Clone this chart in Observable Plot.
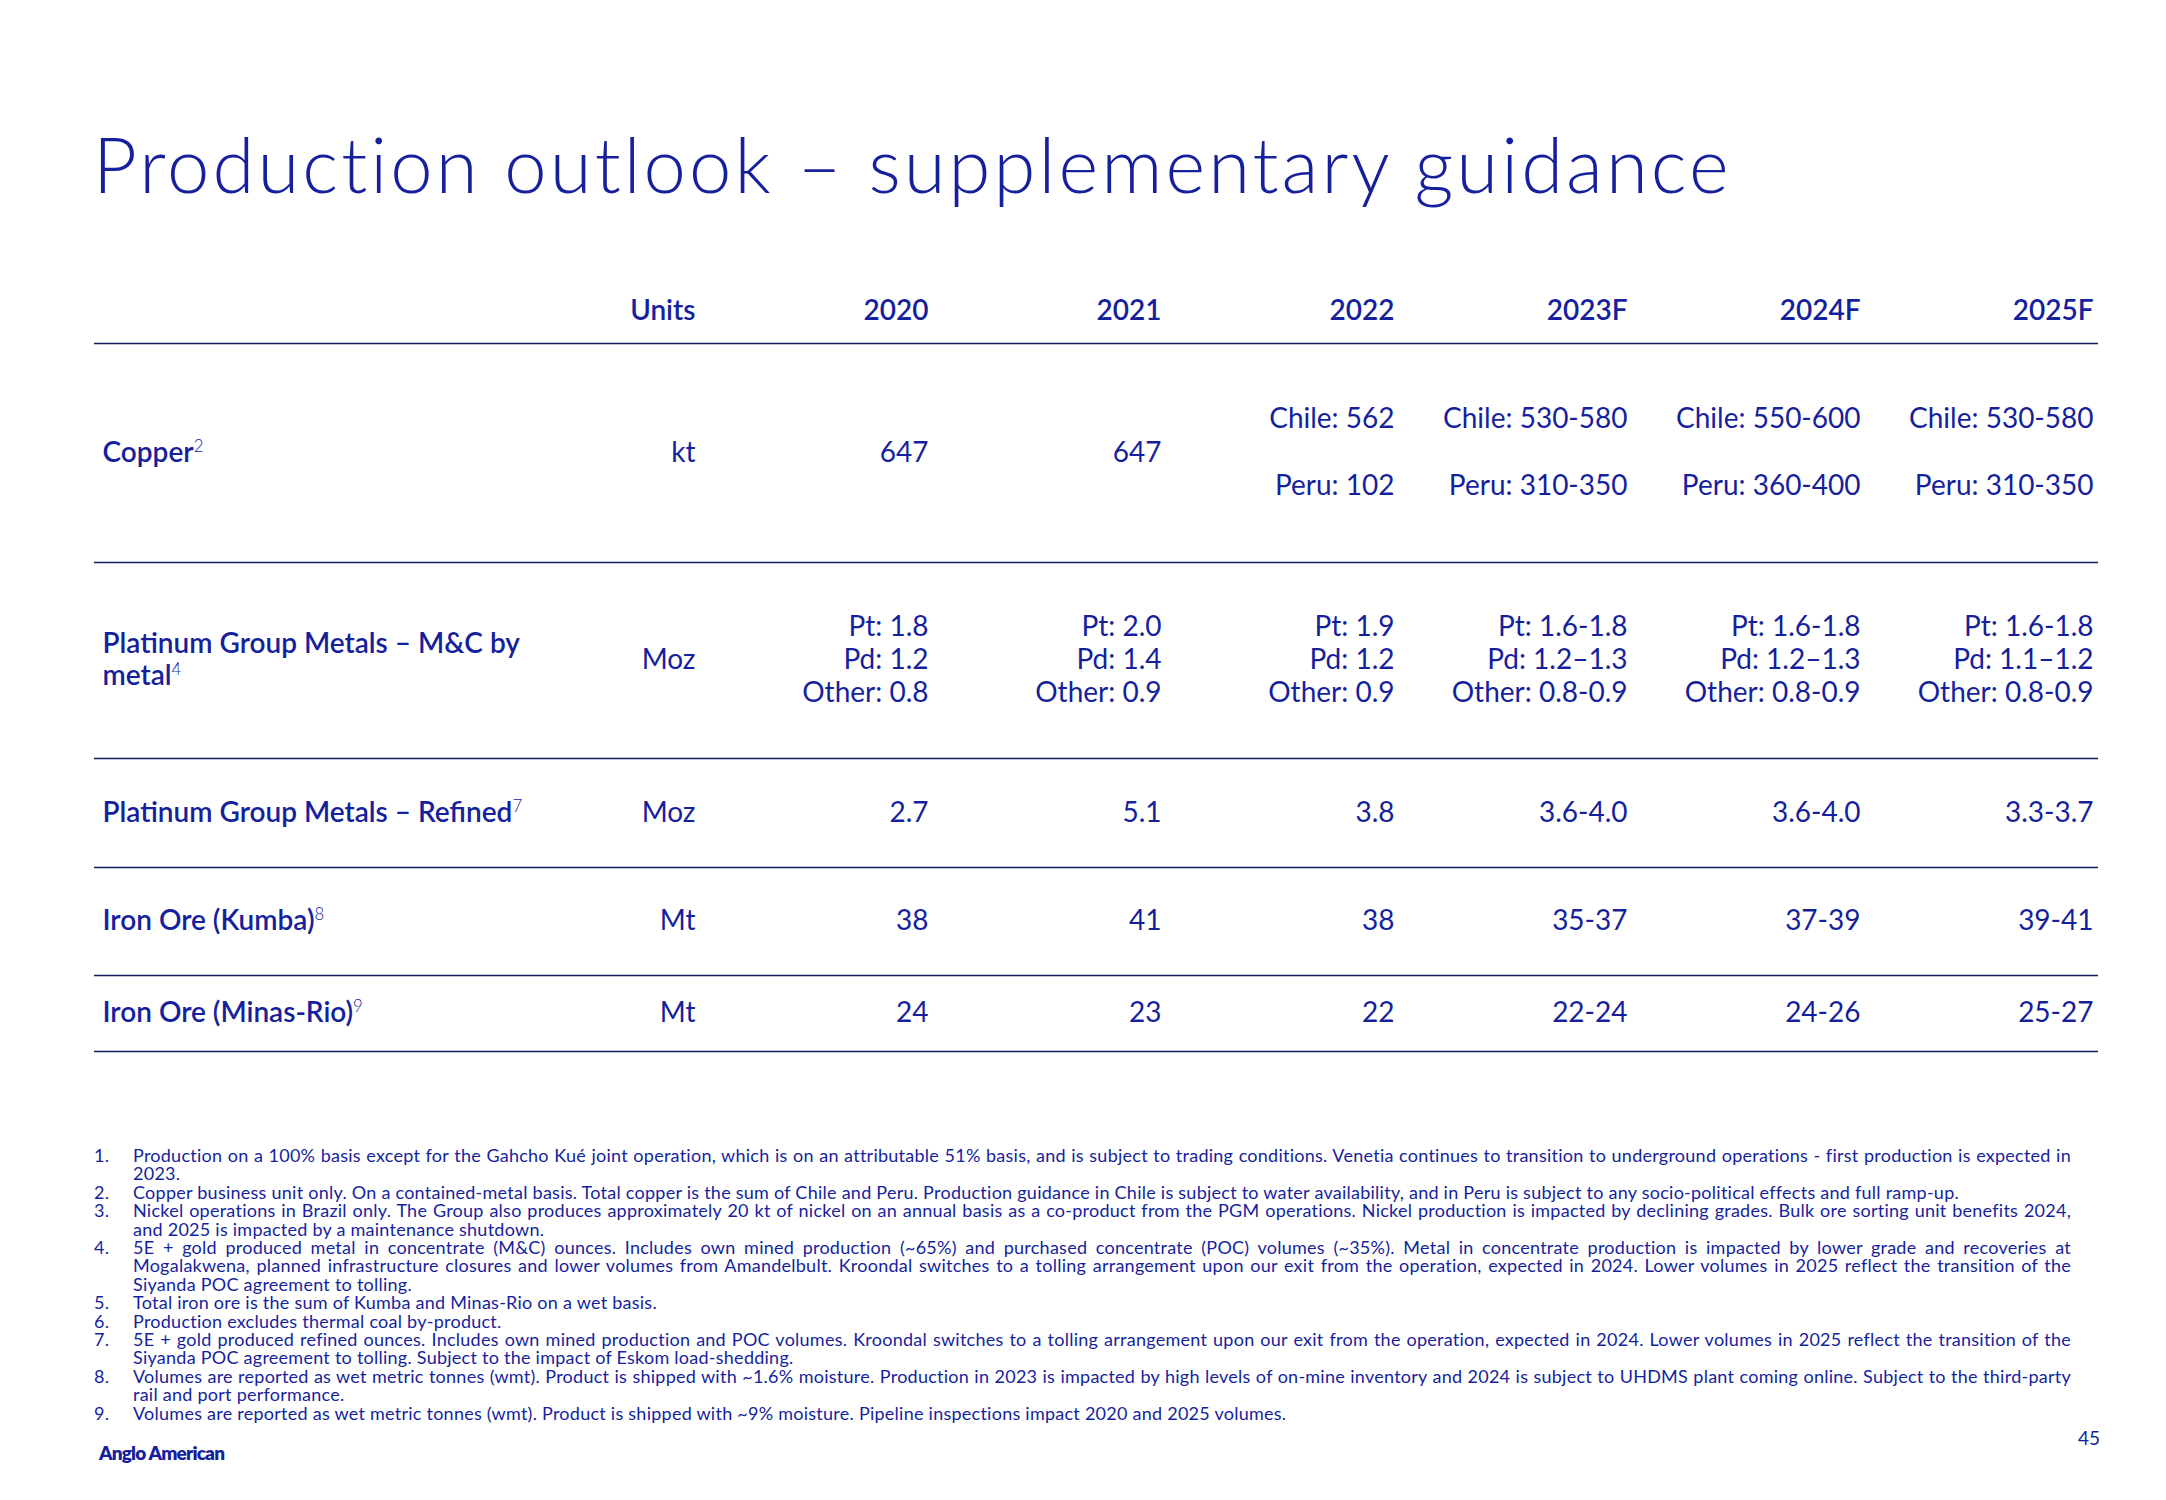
<!DOCTYPE html>
<html>
<head>
<meta charset="utf-8">
<script src="https://cdn.jsdelivr.net/npm/d3@7"></script>
<script src="https://cdn.jsdelivr.net/npm/@observablehq/plot@0.6"></script>
<style>
  html, body { margin: 0; padding: 0; background: #fff; }
  body { width: 2166px; height: 1500px; position: relative; overflow: hidden;
         font-family: Lato, "Open Sans", sans-serif; color: #161f9c; }
  #title { position: absolute; left: 93px; top: 126px; font-size: 76px; line-height: 76px;
           font-weight: 300; white-space: nowrap; }
  #chart { position: absolute; left: 0; top: 260px; }
  #notes { position: absolute; left: 94px; top: 1146px; font-size: 18px; line-height: 18.4px; font-weight: 400; }
  .note { display: flex; }
  .note .num { width: 39px; flex: none; }
  .note .txt { width: 1938px; text-align: justify; }
  #logo { position: absolute; left: 99px; top: 1441px; font-size: 19px; line-height: 24px; font-weight: 800; letter-spacing: -0.8px; }
  #page { position: absolute; right: 66px; top: 1426px; font-size: 19px; line-height: 24px; font-weight: 400; }
</style>
</head>
<body>
<div id="title"></div>
<div id="chart"></div>
<div id="notes"></div>
<div id="logo"></div>
<div id="page"></div>
<script>
// ---------------- DATA ----------------
const titleText = "Production outlook – supplementary guidance";
const columns = ["Units", "2020", "2021", "2022", "2023F", "2024F", "2025F"];
const years = ["2020", "2021", "2022", "2023F", "2024F", "2025F"];
const rowLabels = ["Copper", "Platinum Group Metals – M&C by\nmetal", "Platinum Group Metals – Refined", "Iron Ore (Kumba)", "Iron Ore (Minas-Rio)"];
const rowNotes = ["2", "4", "7", "8", "9"];
const units = ["kt", "Moz", "Moz", "Mt", "Mt"];
const copperValues = ["647", "647", "Chile: 562\nPeru: 102", "Chile: 530-580\nPeru: 310-350", "Chile: 550-600\nPeru: 360-400", "Chile: 530-580\nPeru: 310-350"];
const pgmMCValues = ["Pt: 1.8\nPd: 1.2\nOther: 0.8", "Pt: 2.0\nPd: 1.4\nOther: 0.9", "Pt: 1.9\nPd: 1.2\nOther: 0.9", "Pt: 1.6-1.8\nPd: 1.2–1.3\nOther: 0.8-0.9", "Pt: 1.6-1.8\nPd: 1.2–1.3\nOther: 0.8-0.9", "Pt: 1.6-1.8\nPd: 1.1–1.2\nOther: 0.8-0.9"];
const pgmRefinedValues = ["2.7", "5.1", "3.8", "3.6-4.0", "3.6-4.0", "3.3-3.7"];
const kumbaValues = ["38", "41", "38", "35-37", "37-39", "39-41"];
const minasRioValues = ["24", "23", "22", "22-24", "24-26", "25-27"];
const footnotes = [
  "Production on a 100% basis except for the Gahcho Kué joint operation, which is on an attributable 51% basis, and is subject to trading conditions. Venetia continues to transition to underground operations - first production is expected in 2023.",
  "Copper business unit only. On a contained-metal basis. Total copper is the sum of Chile and Peru. Production guidance in Chile is subject to water availability, and in Peru is subject to any socio-political effects and full ramp-up.",
  "Nickel operations in Brazil only. The Group also produces approximately 20 kt of nickel on an annual basis as a co-product from the PGM operations. Nickel production is impacted by declining grades. Bulk ore sorting unit benefits 2024, and 2025 is impacted by a maintenance shutdown.",
  "5E + gold produced metal in concentrate (M&C) ounces. Includes own mined production (~65%) and purchased concentrate (POC) volumes (~35%). Metal in concentrate production is impacted by lower grade and recoveries at Mogalakwena, planned infrastructure closures and lower volumes from Amandelbult. Kroondal switches to a tolling arrangement upon our exit from the operation, expected in 2024. Lower volumes in 2025 reflect the transition of the Siyanda POC agreement to tolling.",
  "Total iron ore is the sum of Kumba and Minas-Rio on a wet basis.",
  "Production excludes thermal coal by-product.",
  "5E + gold produced refined ounces. Includes own mined production and POC volumes. Kroondal switches to a tolling arrangement upon our exit from the operation, expected in 2024. Lower volumes in 2025 reflect the transition of the Siyanda POC agreement to tolling. Subject to the impact of Eskom load-shedding.",
  "Volumes are reported as wet metric tonnes (wmt). Product is shipped with ~1.6% moisture. Production in 2023 is impacted by high levels of on-mine inventory and 2024 is subject to UHDMS plant coming online. Subject to the third-party rail and port performance.",
  "Volumes are reported as wet metric tonnes (wmt). Product is shipped with ~9% moisture. Pipeline inspections impact 2020 and 2025 volumes."
];
const brand = "Anglo American";
const pageNumber = "45";

// ---------------- STYLE / LAYOUT ----------------
const textColor = "#161f9c";
const lineColor = "#131a60";
const fontSize = 28;
const headerHeight = 64;
const rowHeights = [219, 196, 109, 108, 76];
const lineGaps = [67, 33, 33, 33, 33];
const labelGap = 32;

const rowTop = [];
let acc = headerHeight;
rowHeights.forEach(h => { rowTop.push(acc); acc += h; });
const depth = acc;
const rowCenter = rowTop.map((t, i) => t + rowHeights[i] / 2);
const boundaries = [headerHeight, ...rowTop.map((t, i) => t + rowHeights[i])];
const series = [copperValues, pgmMCValues, pgmRefinedValues, kumbaValues, minasRioValues];
// Plot scales its baseline offset by lineHeight; undo that so blocks stay centred
const lineFix = gap => -0.32 * (gap / fontSize - 1) * fontSize;

// ---------------- TITLE ----------------
const titleEl = document.getElementById("title");
titleEl.textContent = titleText;
{
  const w = titleEl.getBoundingClientRect().width;
  const ls = (1637 - w) / (titleText.length - 1);
  titleEl.style.letterSpacing = ls + "px";
}

// ---------------- TABLE (Plot) ----------------
const svg = Plot.plot({
  width: 2166,
  height: 820,
  marginLeft: 94,
  marginRight: 68,
  marginTop: 0,
  marginBottom: 0,
  style: { fontFamily: "Lato, 'Open Sans', sans-serif", background: "transparent", overflow: "visible" },
  x: { type: "point", domain: columns, range: [695, 2093], padding: 0, axis: null },
  y: { type: "linear", domain: [0, depth], range: [19, 19 + depth], axis: null },
  marks: [
    Plot.ruleY(boundaries, { stroke: lineColor, strokeWidth: 1.4 }),
    Plot.text(columns, { x: d => d, y: () => headerHeight / 2, text: d => d, textAnchor: "end",
      fontSize, fontWeight: 600, fill: textColor }),
    Plot.text(rowLabels, { frameAnchor: "left", dx: 8, dy: lineFix(labelGap), y: (d, i) => rowCenter[i], text: d => d,
      textAnchor: "start", fontSize, fontWeight: 600, lineHeight: labelGap / fontSize, fill: textColor }),
    Plot.text(units, { x: () => "Units", y: (d, i) => rowCenter[i], text: d => d, textAnchor: "end",
      fontSize, fill: textColor }),
    ...series.map((vals, r) => Plot.text(vals, { x: (d, j) => years[j], y: () => rowCenter[r], text: d => d,
      dy: lineFix(lineGaps[r]), textAnchor: "end", fontSize, lineHeight: lineGaps[r] / fontSize, fill: textColor }))
  ]
});
document.getElementById("chart").appendChild(svg);

// superscript footnote references on row labels
const flatLabels = rowLabels.map(s => s.replace(/\n/g, ""));
d3.select(svg).selectAll("text").each(function () {
  const i = flatLabels.indexOf(this.textContent);
  if (i < 0) return;
  const t = d3.select(this);
  const spans = t.selectAll("tspan").nodes();
  const target = spans.length ? d3.select(spans[spans.length - 1]) : t;
  target.append("tspan").attr("dy", "-0.6em").attr("font-size", "0.6em").attr("font-weight", 300).text(rowNotes[i]);
});

// ---------------- FOOTNOTES ----------------
const notesEl = document.getElementById("notes");
{
  const probe = document.createElement("span");
  probe.style.whiteSpace = "nowrap";
  probe.textContent = footnotes[1];
  notesEl.appendChild(probe);
  const w = probe.getBoundingClientRect().width;
  notesEl.removeChild(probe);
  notesEl.style.letterSpacing = ((1826 - w) / footnotes[1].length) + "px";
}
footnotes.forEach((t, i) => {
  const row = document.createElement("div");
  row.className = "note";
  const n = document.createElement("span"); n.className = "num"; n.textContent = (i + 1) + ".";
  const x = document.createElement("span"); x.className = "txt"; x.textContent = t;
  row.appendChild(n); row.appendChild(x);
  notesEl.appendChild(row);
});
document.getElementById("logo").textContent = brand;
document.getElementById("page").textContent = pageNumber;
</script>
</body>
</html>
